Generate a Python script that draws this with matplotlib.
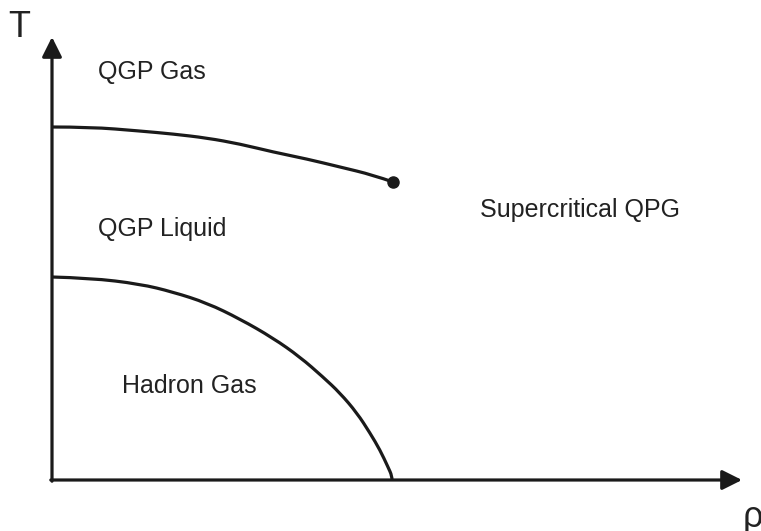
import numpy as np
import matplotlib.pyplot as plt
from matplotlib.path import Path
from matplotlib.patches import PathPatch

# phase boundaries (rho, T in arbitrary units)
liquid_gas_rho = [0.0, 0.38, 0.88, 1.21, 1.55, 1.88, 2.21, 2.55, 2.88, 3.21, 3.41]
liquid_gas_T = [3.53, 3.53, 3.49, 3.46, 3.42, 3.36, 3.28, 3.21, 3.13, 3.05, 2.98]

hadron_rho = [0.0, 0.38, 0.88, 1.21, 1.55, 1.88, 2.21, 2.48, 2.71, 2.88, 3.05, 3.18, 3.28, 3.36, 3.40, 3.40]
hadron_T = [2.03, 2.02, 1.96, 1.88, 1.77, 1.61, 1.42, 1.23, 1.03, 0.87, 0.67, 0.47, 0.30, 0.13, 0.04, 0.0]

critical_point = (3.41, 2.98)

region_labels = ['QGP Gas', 'QGP Liquid', 'Supercritical QPG', 'Hadron Gas']
region_pos = [(0.46, 4.01), (0.46, 2.44), (4.28, 2.63), (0.70, 0.87)]

rho_max, T_max = 6.90, 4.43

plt.rcParams['font.family'] = ['Liberation Sans', 'DejaVu Sans']
ink = '#1a1a1a'
text_ink = '#222222'


def smooth_path(xs, ys):
    """quadratic b-spline through the read points (drawn by matplotlib's Path)"""
    pts = np.column_stack([xs, ys])
    verts = [pts[0]]
    codes = [Path.MOVETO]
    for i in range(1, len(pts) - 1):
        end = pts[i + 1] if i == len(pts) - 2 else (pts[i] + pts[i + 1]) / 2
        verts += [pts[i], end]
        codes += [Path.CURVE3, Path.CURVE3]
    return Path(verts, codes)


fig = plt.figure(figsize=(7.61, 5.31), dpi=100)
ax = fig.add_axes([0, 0, 1, 1])
ax.set_xlim(-0.52, 7.09)
ax.set_ylim(-0.51, 4.80)
ax.axis('off')

# axes with arrow heads
arrow = dict(arrowstyle='-|>,head_length=0.6,head_width=0.3', lw=2.3,
             color=ink, mutation_scale=20, shrinkA=0, shrinkB=0)
ax.annotate('', xy=(rho_max, 0), xytext=(-0.012, 0), arrowprops=arrow)
ax.annotate('', xy=(0, T_max), xytext=(0, -0.012), arrowprops=arrow)

# boundaries
for xs, ys in [(liquid_gas_rho, liquid_gas_T), (hadron_rho, hadron_T)]:
    ax.add_patch(PathPatch(smooth_path(xs, ys), facecolor='none',
                           edgecolor=ink, lw=2.3, capstyle='butt'))
ax.plot(*critical_point, 'o', color=ink, markersize=8)

for label, (x, y) in zip(region_labels, region_pos):
    ax.text(x, y, label, fontsize=18, color=text_ink, va='baseline', ha='left')

ax.text(-0.325, 4.43, 'T', fontsize=26, color=text_ink, ha='center', va='baseline')
ax.text(7.01, -0.47, 'ρ', fontsize=26, color=text_ink, ha='center', va='baseline')

fig.savefig('out.png', dpi=100)
